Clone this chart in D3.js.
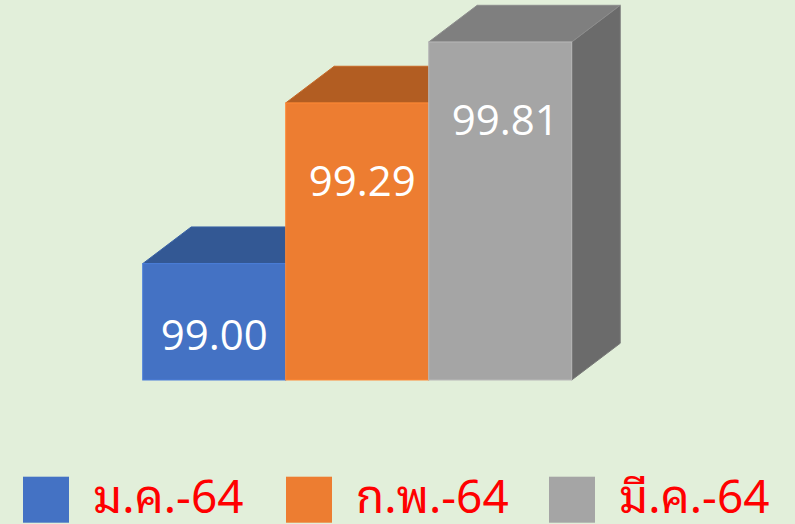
<!DOCTYPE html>
<html><head><meta charset="utf-8">
<script src="https://cdn.jsdelivr.net/npm/d3@7"></script>
<style>
html,body{margin:0;padding:0;background:#E2EFDA;}
svg{display:block;}
</style></head>
<body><svg id="c" width="795" height="524"></svg>
<script>
const categories = ["ม.ค.-64", "ก.พ.-64", "มี.ค.-64"];
const values = [99.00, 99.29, 99.81];
const labels = ["99.00", "99.29", "99.81"];
const frontColors = ["#4472C4", "#ED7D31", "#A5A5A5"];
const topColors = ["#335894", "#B25D22", "#7F7F7F"];
const sideColors = ["#2C4D82", "#9C511E", "#6B6B6B"];
const yDomain = [98.79, 99.40];

const svg = d3.select("#c");
const W = 795, H = 524;
svg.append("rect").attr("width", W).attr("height", H).attr("fill", "#E2EFDA");

const x = d3.scaleBand().domain(categories).range([142.7, 571.7]).padding(0);
const y = d3.scaleLinear().domain(yDomain).range([380, 42]).clamp(true);
const dx = 48.5, dy = 36.7;

const g = svg.append("g");
categories.forEach((c, i) => {
  const x0 = x(c), x1 = x0 + x.bandwidth();
  const yt = y(values[i]), yb = y(yDomain[0]);
  const bar = g.append("g");
  // side
  bar.append("path")
    .attr("d", `M${x1},${yt}L${x1+dx},${yt-dy}L${x1+dx},${yb-dy}L${x1},${yb}Z`)
    .attr("fill", sideColors[i]).attr("stroke", d3.color(sideColors[i]).brighter(0.3)).attr("stroke-width", 1);
  // top
  bar.append("path")
    .attr("d", `M${x0},${yt}L${x0+dx},${yt-dy}L${x1+dx},${yt-dy}L${x1},${yt}Z`)
    .attr("fill", topColors[i]).attr("stroke", d3.color(topColors[i]).brighter(0.3)).attr("stroke-width", 1);
  // front
  bar.append("rect")
    .attr("x", x0).attr("y", yt).attr("width", x.bandwidth()).attr("height", yb - yt)
    .attr("fill", frontColors[i]).attr("stroke", d3.color(frontColors[i]).brighter(0.3)).attr("stroke-width", 1);
});
// labels
categories.forEach((c, i) => {
  const cx = x(c) + x.bandwidth() / 2 + (i === 0 ? 0 : 5);
  const yt = y(values[i]), yb = y(yDomain[0]);
  g.append("text")
    .attr("x", cx).attr("y", Math.min(yt + 93, yb - 30))
    .attr("text-anchor", "middle")
    .attr("font-family", "'Open Sans', sans-serif")
    .attr("font-size", 42)
    .attr("fill", "#FFFFFF")
    .text(labels[i]);
});

// legend
const legX = d3.scalePoint().domain(categories).range([23, 549]);
const leg = svg.append("g");
categories.forEach((c, i) => {
  const lx = legX(c);
  leg.append("rect").attr("x", lx).attr("y", 476.7).attr("width", 46).attr("height", 46)
    .attr("fill", frontColors[i]);
  leg.append("text").attr("x", lx + 70).attr("y", 513.3)
    .attr("font-family", "'Angsana New','Cordia New','Noto Sans Thai Looped','Noto Serif Thai','Noto Sans Thai','Noto Sans',sans-serif")
    .attr("font-size", 46)
    .attr("fill", "#FF0000")
    .text(c);
});
</script>
</body></html>
